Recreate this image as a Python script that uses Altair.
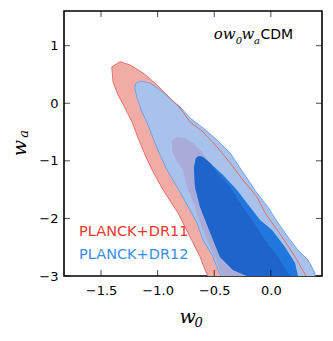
import altair as alt
import pandas as pd

# ---- contour vertices (w0, wa) ----
red95_x = [-1.332, -1.405, -1.394, -1.350, -1.288, -1.226, -1.173, -1.111, -1.049, -0.952, -0.820, -0.714, -0.625, -0.581, -0.555, -0.493,
           0.364, 0.311, 0.214, 0.099, -0.051, -0.122, -0.246, -0.360, -0.475, -0.599, -0.714, -0.802, -0.917, -1.005, -1.129, -1.244]
red95_y = [0.722, 0.630, 0.370, 0.144, -0.082, -0.325, -0.603, -0.898, -1.158, -1.505, -1.905, -2.321, -2.668, -2.894, -3.000, -3.330,
           -3.330, -3.000, -2.668, -2.321, -1.905, -1.627, -1.332, -1.036, -0.759, -0.498, -0.325, -0.082, 0.144, 0.318, 0.526, 0.665]

blue95_x = [-1.155, -1.195, -1.202, -1.182, -1.138, -1.085, -1.041, -0.979, -0.917, -0.829, -0.714, -0.652, -0.599, -0.511, -0.466, -0.440, -0.378,
            0.452, 0.390, 0.390, 0.329, 0.240, 0.152, 0.064, -0.025, -0.140, -0.201, -0.272, -0.360, -0.475, -0.599, -0.714, -0.802, -0.917, -0.979, -1.067]
blue95_y = [0.387, 0.340, 0.266, 0.092, -0.151, -0.377, -0.602, -0.898, -1.158, -1.453, -1.852, -2.078, -2.373, -2.668, -2.894, -3.000, -3.330,
            -3.330, -3.000, -2.950, -2.724, -2.550, -2.325, -2.080, -1.807, -1.512, -1.330, -1.123, -0.863, -0.637, -0.429, -0.255, -0.064, 0.127, 0.231, 0.352]

red68_x = [-0.829, -0.873, -0.873, -0.837, -0.776, -0.740, -0.670, -0.625, -0.555, -0.493, -0.431, -0.360,
           0.258, 0.170, 0.064, -0.051, -0.166, -0.246, -0.360, -0.493, -0.599, -0.687, -0.758]
red68_y = [-0.585, -0.637, -0.811, -0.984, -1.158, -1.453, -1.800, -2.078, -2.425, -2.686, -3.000, -3.330,
           -3.330, -3.000, -2.668, -2.373, -2.026, -1.800, -1.453, -1.158, -0.863, -0.689, -0.602]

blue68_x = [-0.634, -0.661, -0.678, -0.670, -0.625, -0.537, -0.449, -0.334, -0.210, -0.095,
            0.302, 0.240, 0.214, 0.125, 0.011, -0.095, -0.184, -0.299, -0.422, -0.537, -0.599]
blue68_y = [-0.915, -0.950, -1.106, -1.453, -1.800, -2.241, -2.668, -2.894, -3.000, -3.160,
            -3.160, -3.000, -2.773, -2.495, -2.200, -2.026, -1.800, -1.505, -1.245, -1.036, -0.932]

both68_x = [-0.634, -0.661, -0.678, -0.670, -0.625, -0.537, -0.449, -0.334, -0.210, -0.095,
            0.223, 0.170, 0.064, -0.051, -0.166, -0.246, -0.360, -0.493, -0.537, -0.599]
both68_y = [-0.915, -0.950, -1.106, -1.453, -1.800, -2.241, -2.668, -2.894, -3.000, -3.160,
            -3.160, -3.000, -2.668, -2.373, -2.026, -1.800, -1.453, -1.158, -1.036, -0.932]

x_ticks = [-1.5, -1.0, -0.5, 0.0]
y_ticks = [-3, -2, -1, 0, 1]
x_domain = [-1.827, 0.452]
y_domain = [-3.0, 1.602]

labels = ["PLANCK+DR11", "PLANCK+DR12"]
label_colors = ["#e8392f", "#3a8ee8"]


def poly(xs, ys):
    xs = list(xs) + [xs[0]]
    ys = list(ys) + [ys[0]]
    return pd.DataFrame({"x": xs, "y": ys, "i": range(len(xs))})


X = alt.X("x:Q", scale=alt.Scale(domain=x_domain, nice=False, zero=False),
          axis=alt.Axis(values=x_ticks, format=".1f", tickSize=0, labelPadding=8,
                        labelFontSize=13, labelFont="DejaVu Sans", labelColor="black",
                        domain=False, grid=False, title=None))
Y = alt.Y("y:Q", scale=alt.Scale(domain=y_domain, nice=False, zero=False),
          axis=alt.Axis(values=y_ticks, format="d", tickSize=0, labelPadding=6,
                        labelFontSize=13, labelFont="DejaVu Sans", labelColor="black",
                        domain=False, grid=False, title=None))


def shape(xs, ys, fill=None, stroke=None, sw=1.0):
    kw = {"clip": True, "interpolate": "linear"}
    kw["fill"] = fill if fill else "transparent"
    if stroke:
        kw["stroke"] = stroke
        kw["strokeWidth"] = sw
    else:
        kw["strokeWidth"] = 0
    return alt.Chart(poly(xs, ys)).mark_line(**kw).encode(x=X, y=Y, order=alt.Order("i:Q"))


layers = [
    shape(red95_x, red95_y, fill="#f2aca6"),
    shape(blue95_x, blue95_y, fill="#a8c2ec", stroke="#6fa2ea", sw=1.0),
    shape(red95_x, red95_y, stroke="#e2655c", sw=0.9),
    shape(red68_x, red68_y, fill="#a9acd9"),
    shape(blue68_x, blue68_y, fill="#2277de"),
    shape(both68_x, both68_y, fill="#1f64ca"),
]

# inward ticks on all four sides
tx = pd.DataFrame({"x": x_ticks})
ty = pd.DataFrame({"y": y_ticks})
layers += [
    alt.Chart(tx).mark_tick(orient="vertical", size=6, thickness=1, color="black", yOffset=-3)
    .encode(x=alt.X("x:Q"), y=alt.datum(y_domain[0])),
    alt.Chart(tx).mark_tick(orient="vertical", size=6, thickness=1, color="black", yOffset=3)
    .encode(x=alt.X("x:Q"), y=alt.datum(y_domain[1])),
    alt.Chart(ty).mark_tick(orient="horizontal", size=6, thickness=1, color="black", xOffset=3)
    .encode(y=alt.Y("y:Q"), x=alt.datum(x_domain[0])),
    alt.Chart(ty).mark_tick(orient="horizontal", size=6, thickness=1, color="black", xOffset=-3)
    .encode(y=alt.Y("y:Q"), x=alt.datum(x_domain[1])),
]

# legend-like labels
leg = pd.DataFrame({"t": labels, "c": label_colors, "x": [-1.694, -1.694], "y": [-2.234, -2.634]})
layers.append(
    alt.Chart(leg).mark_text(align="left", baseline="middle", fontSize=14.5, font="DejaVu Sans")
    .encode(x="x:Q", y="y:Q", text="t:N", color=alt.Color("c:N", scale=None))
)


def txt(t, x, y, size, font, style="normal", align="left", angle=0):
    d = pd.DataFrame({"t": [t], "x": [x], "y": [y]})
    return alt.Chart(d).mark_text(align=align, baseline="middle", fontSize=size, font=font,
                                  fontStyle=style, color="black", angle=angle, clip=False
                                  ).encode(x="x:Q", y="y:Q", text="t:N")


layers += [
    # model label  o w_0 w_a CDM
    txt("ow", -0.505, 1.20, 15, "DejaVu Serif", "italic"),
    txt("0", -0.310, 1.08, 10, "DejaVu Serif", "italic"),
    txt("w", -0.258, 1.20, 15, "DejaVu Serif", "italic"),
    txt("a", -0.148, 1.08, 10, "DejaVu Serif", "italic"),
    txt("CDM", -0.092, 1.19, 14, "DejaVu Sans"),
    # axis titles
    txt("w", -0.735, -3.72, 19, "DejaVu Serif", "italic", align="center"),
    txt("0", -0.637, -3.81, 13, "DejaVu Serif", "italic", align="center"),
    txt("w", -2.215, -0.78, 19, "DejaVu Serif", "italic", align="center", angle=270),
    txt("a", -2.180, -0.53, 13, "DejaVu Serif", "italic", align="center", angle=270),
]

chart = alt.layer(*layers).properties(
    width=258, height=265,
    autosize=alt.AutoSizeParams(type="none"),
    padding={"left": 56, "top": 3, "right": 3, "bottom": 62},
    background="white",
).configure_view(stroke="black", strokeWidth=1.6)

chart.save("out.html", embed_options={"renderer": "svg", "actions": False})
